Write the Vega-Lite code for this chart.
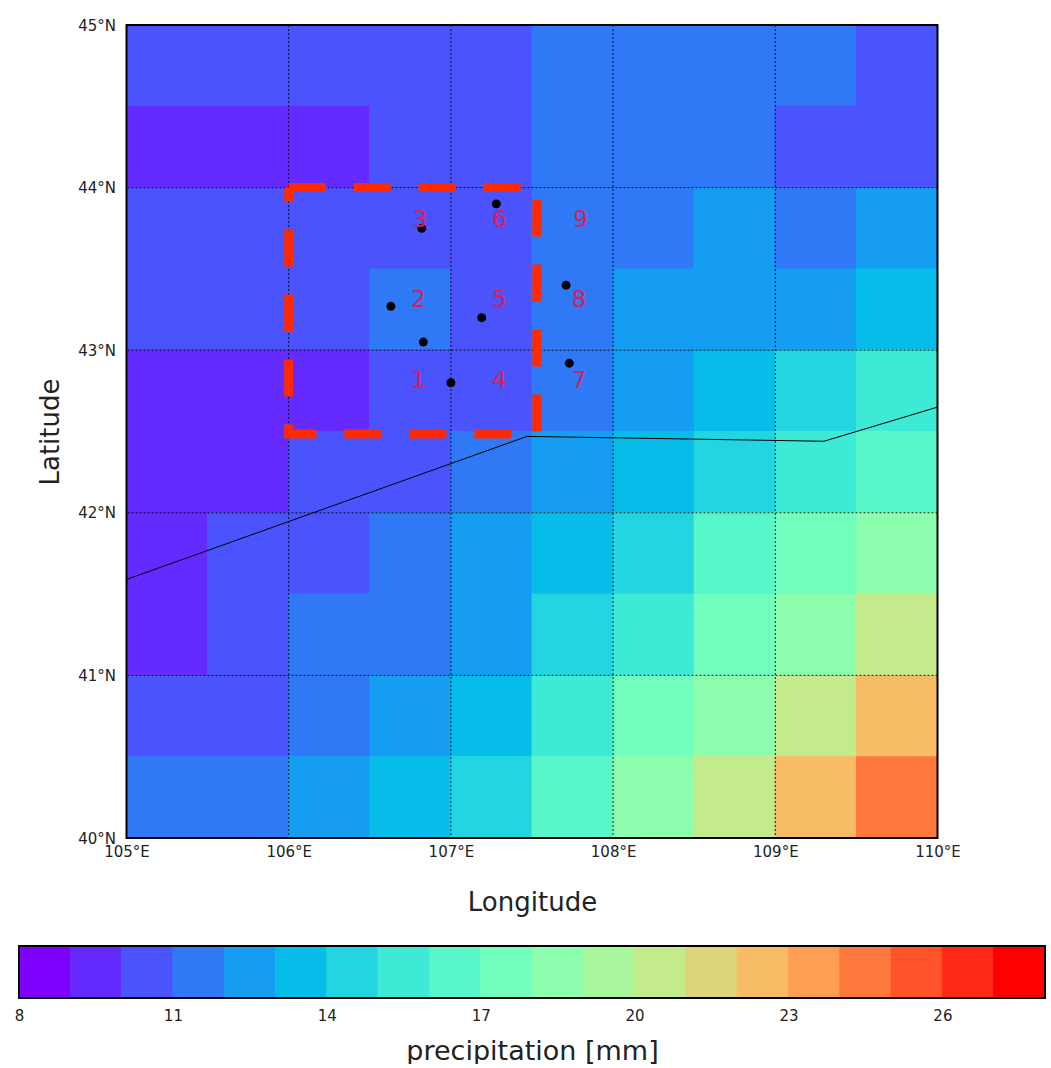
{"$schema":"https://vega.github.io/schema/vega-lite/v6.json","background":"white","padding":{"left":14,"top":18,"right":5,"bottom":0},"center":true,"spacing":108,"bounds":"flush","config":{"view":{"stroke":null},"axis":{"labelFont":"DejaVu Sans","titleFont":"DejaVu Sans","labelColor":"#222222","titleColor":"#222222","titleFontWeight":"normal"}},"datasets":{"cells":[
{"lon":105,"lon2":105.5,"lat":44.5,"lat2":45,"precip":10.5},{"lon":105.5,"lon2":106,"lat":44.5,"lat2":45,"precip":10.5},{"lon":106,"lon2":106.5,"lat":44.5,"lat2":45,"precip":10.5},{"lon":106.5,"lon2":107,"lat":44.5,"lat2":45,"precip":10.5},{"lon":107,"lon2":107.5,"lat":44.5,"lat2":45,"precip":10.5},{"lon":107.5,"lon2":108,"lat":44.5,"lat2":45,"precip":11.5},{"lon":108,"lon2":108.5,"lat":44.5,"lat2":45,"precip":11.5},{"lon":108.5,"lon2":109,"lat":44.5,"lat2":45,"precip":11.5},{"lon":109,"lon2":109.5,"lat":44.5,"lat2":45,"precip":11.5},{"lon":109.5,"lon2":110,"lat":44.5,"lat2":45,"precip":10.5},
{"lon":105,"lon2":105.5,"lat":44,"lat2":44.5,"precip":9.5},{"lon":105.5,"lon2":106,"lat":44,"lat2":44.5,"precip":9.5},{"lon":106,"lon2":106.5,"lat":44,"lat2":44.5,"precip":9.5},{"lon":106.5,"lon2":107,"lat":44,"lat2":44.5,"precip":10.5},{"lon":107,"lon2":107.5,"lat":44,"lat2":44.5,"precip":10.5},{"lon":107.5,"lon2":108,"lat":44,"lat2":44.5,"precip":11.5},{"lon":108,"lon2":108.5,"lat":44,"lat2":44.5,"precip":11.5},{"lon":108.5,"lon2":109,"lat":44,"lat2":44.5,"precip":11.5},{"lon":109,"lon2":109.5,"lat":44,"lat2":44.5,"precip":10.5},{"lon":109.5,"lon2":110,"lat":44,"lat2":44.5,"precip":10.5},
{"lon":105,"lon2":105.5,"lat":43.5,"lat2":44,"precip":10.5},{"lon":105.5,"lon2":106,"lat":43.5,"lat2":44,"precip":10.5},{"lon":106,"lon2":106.5,"lat":43.5,"lat2":44,"precip":10.5},{"lon":106.5,"lon2":107,"lat":43.5,"lat2":44,"precip":10.5},{"lon":107,"lon2":107.5,"lat":43.5,"lat2":44,"precip":10.5},{"lon":107.5,"lon2":108,"lat":43.5,"lat2":44,"precip":11.5},{"lon":108,"lon2":108.5,"lat":43.5,"lat2":44,"precip":11.5},{"lon":108.5,"lon2":109,"lat":43.5,"lat2":44,"precip":12.5},{"lon":109,"lon2":109.5,"lat":43.5,"lat2":44,"precip":11.5},{"lon":109.5,"lon2":110,"lat":43.5,"lat2":44,"precip":12.5},
{"lon":105,"lon2":105.5,"lat":43,"lat2":43.5,"precip":10.5},{"lon":105.5,"lon2":106,"lat":43,"lat2":43.5,"precip":10.5},{"lon":106,"lon2":106.5,"lat":43,"lat2":43.5,"precip":10.5},{"lon":106.5,"lon2":107,"lat":43,"lat2":43.5,"precip":11.5},{"lon":107,"lon2":107.5,"lat":43,"lat2":43.5,"precip":10.5},{"lon":107.5,"lon2":108,"lat":43,"lat2":43.5,"precip":11.5},{"lon":108,"lon2":108.5,"lat":43,"lat2":43.5,"precip":12.5},{"lon":108.5,"lon2":109,"lat":43,"lat2":43.5,"precip":12.5},{"lon":109,"lon2":109.5,"lat":43,"lat2":43.5,"precip":12.5},{"lon":109.5,"lon2":110,"lat":43,"lat2":43.5,"precip":13.5},
{"lon":105,"lon2":105.5,"lat":42.5,"lat2":43,"precip":9.5},{"lon":105.5,"lon2":106,"lat":42.5,"lat2":43,"precip":9.5},{"lon":106,"lon2":106.5,"lat":42.5,"lat2":43,"precip":9.5},{"lon":106.5,"lon2":107,"lat":42.5,"lat2":43,"precip":10.5},{"lon":107,"lon2":107.5,"lat":42.5,"lat2":43,"precip":10.5},{"lon":107.5,"lon2":108,"lat":42.5,"lat2":43,"precip":11.5},{"lon":108,"lon2":108.5,"lat":42.5,"lat2":43,"precip":12.5},{"lon":108.5,"lon2":109,"lat":42.5,"lat2":43,"precip":13.5},{"lon":109,"lon2":109.5,"lat":42.5,"lat2":43,"precip":14.5},{"lon":109.5,"lon2":110,"lat":42.5,"lat2":43,"precip":15.5},
{"lon":105,"lon2":105.5,"lat":42,"lat2":42.5,"precip":9.5},{"lon":105.5,"lon2":106,"lat":42,"lat2":42.5,"precip":9.5},{"lon":106,"lon2":106.5,"lat":42,"lat2":42.5,"precip":10.5},{"lon":106.5,"lon2":107,"lat":42,"lat2":42.5,"precip":10.5},{"lon":107,"lon2":107.5,"lat":42,"lat2":42.5,"precip":11.5},{"lon":107.5,"lon2":108,"lat":42,"lat2":42.5,"precip":12.5},{"lon":108,"lon2":108.5,"lat":42,"lat2":42.5,"precip":13.5},{"lon":108.5,"lon2":109,"lat":42,"lat2":42.5,"precip":14.5},{"lon":109,"lon2":109.5,"lat":42,"lat2":42.5,"precip":15.5},{"lon":109.5,"lon2":110,"lat":42,"lat2":42.5,"precip":16.5},
{"lon":105,"lon2":105.5,"lat":41.5,"lat2":42,"precip":9.5},{"lon":105.5,"lon2":106,"lat":41.5,"lat2":42,"precip":10.5},{"lon":106,"lon2":106.5,"lat":41.5,"lat2":42,"precip":10.5},{"lon":106.5,"lon2":107,"lat":41.5,"lat2":42,"precip":11.5},{"lon":107,"lon2":107.5,"lat":41.5,"lat2":42,"precip":12.5},{"lon":107.5,"lon2":108,"lat":41.5,"lat2":42,"precip":13.5},{"lon":108,"lon2":108.5,"lat":41.5,"lat2":42,"precip":14.5},{"lon":108.5,"lon2":109,"lat":41.5,"lat2":42,"precip":16.5},{"lon":109,"lon2":109.5,"lat":41.5,"lat2":42,"precip":17.5},{"lon":109.5,"lon2":110,"lat":41.5,"lat2":42,"precip":18.5},
{"lon":105,"lon2":105.5,"lat":41,"lat2":41.5,"precip":9.5},{"lon":105.5,"lon2":106,"lat":41,"lat2":41.5,"precip":10.5},{"lon":106,"lon2":106.5,"lat":41,"lat2":41.5,"precip":11.5},{"lon":106.5,"lon2":107,"lat":41,"lat2":41.5,"precip":11.5},{"lon":107,"lon2":107.5,"lat":41,"lat2":41.5,"precip":12.5},{"lon":107.5,"lon2":108,"lat":41,"lat2":41.5,"precip":14.5},{"lon":108,"lon2":108.5,"lat":41,"lat2":41.5,"precip":15.5},{"lon":108.5,"lon2":109,"lat":41,"lat2":41.5,"precip":17.5},{"lon":109,"lon2":109.5,"lat":41,"lat2":41.5,"precip":18.5},{"lon":109.5,"lon2":110,"lat":41,"lat2":41.5,"precip":20.5},
{"lon":105,"lon2":105.5,"lat":40.5,"lat2":41,"precip":10.5},{"lon":105.5,"lon2":106,"lat":40.5,"lat2":41,"precip":10.5},{"lon":106,"lon2":106.5,"lat":40.5,"lat2":41,"precip":11.5},{"lon":106.5,"lon2":107,"lat":40.5,"lat2":41,"precip":12.5},{"lon":107,"lon2":107.5,"lat":40.5,"lat2":41,"precip":13.5},{"lon":107.5,"lon2":108,"lat":40.5,"lat2":41,"precip":15.5},{"lon":108,"lon2":108.5,"lat":40.5,"lat2":41,"precip":17.5},{"lon":108.5,"lon2":109,"lat":40.5,"lat2":41,"precip":18.5},{"lon":109,"lon2":109.5,"lat":40.5,"lat2":41,"precip":20.5},{"lon":109.5,"lon2":110,"lat":40.5,"lat2":41,"precip":22.5},
{"lon":105,"lon2":105.5,"lat":40,"lat2":40.5,"precip":11.5},{"lon":105.5,"lon2":106,"lat":40,"lat2":40.5,"precip":11.5},{"lon":106,"lon2":106.5,"lat":40,"lat2":40.5,"precip":12.5},{"lon":106.5,"lon2":107,"lat":40,"lat2":40.5,"precip":13.5},{"lon":107,"lon2":107.5,"lat":40,"lat2":40.5,"precip":14.5},{"lon":107.5,"lon2":108,"lat":40,"lat2":40.5,"precip":16.5},{"lon":108,"lon2":108.5,"lat":40,"lat2":40.5,"precip":18.5},{"lon":108.5,"lon2":109,"lat":40,"lat2":40.5,"precip":20.5},{"lon":109,"lon2":109.5,"lat":40,"lat2":40.5,"precip":22.5},{"lon":109.5,"lon2":110,"lat":40,"lat2":40.5,"precip":24.5}
],"bins":[{"from":8,"to":9,"precip":8.5},{"from":9,"to":10,"precip":9.5},{"from":10,"to":11,"precip":10.5},{"from":11,"to":12,"precip":11.5},{"from":12,"to":13,"precip":12.5},{"from":13,"to":14,"precip":13.5},{"from":14,"to":15,"precip":14.5},{"from":15,"to":16,"precip":15.5},{"from":16,"to":17,"precip":16.5},{"from":17,"to":18,"precip":17.5},{"from":18,"to":19,"precip":18.5},{"from":19,"to":20,"precip":19.5},{"from":20,"to":21,"precip":20.5},{"from":21,"to":22,"precip":21.5},{"from":22,"to":23,"precip":22.5},{"from":23,"to":24,"precip":23.5},{"from":24,"to":25,"precip":24.5},{"from":25,"to":26,"precip":25.5},{"from":26,"to":27,"precip":26.5},{"from":27,"to":28,"precip":27.5}]},
"vconcat":[{"width":811,"height":813,"layer":[
{"data":{"name":"cells"},"mark":{"type":"rect","strokeWidth":1},"encoding":{"x":{"field":"lon","type":"quantitative","scale":{"domain":[105,110],"nice":false},"axis":{"values":[105,106,107,108,109,110],"labelExpr":"datum.value + '°E'","labelFontSize":15,"labelFlush":false,"labelPadding":6,"ticks":false,"grid":false,"domain":false,"title":"Longitude","titleFontSize":26,"titlePadding":30}},"x2":{"field":"lon2"},"y":{"field":"lat","type":"quantitative","scale":{"domain":[40,45],"nice":false},"axis":{"values":[40,41,42,43,44,45],"labelExpr":"datum.value + '°N'","labelFontSize":15,"labelFlush":false,"labelPadding":11,"ticks":false,"grid":false,"domain":false,"title":"Latitude","titleFontSize":26,"titlePadding":14}},"y2":{"field":"lat2"},"fill":{"field":"precip","type":"quantitative","legend":null,"scale":{"type":"threshold","domain":[9,10,11,12,13,14,15,16,17,18,19,20,21,22,23,24,25,26,27],"range":["#8000ff","#652afe","#4a53fc","#2f79f7","#149df1","#07bce9","#22d5e0","#3cead5","#57f7c9","#72febc","#8dfead","#a8f79d","#c3ea8b","#ddd579","#f8bc66","#ff9d53","#ff793f","#ff532a","#ff2a15","#ff0000"]}},"stroke":{"field":"precip","type":"quantitative","legend":null,"scale":{"type":"threshold","domain":[9,10,11,12,13,14,15,16,17,18,19,20,21,22,23,24,25,26,27],"range":["#8000ff","#652afe","#4a53fc","#2f79f7","#149df1","#07bce9","#22d5e0","#3cead5","#57f7c9","#72febc","#8dfead","#a8f79d","#c3ea8b","#ddd579","#f8bc66","#ff9d53","#ff793f","#ff532a","#ff2a15","#ff0000"]}}}},
{"data":{"values":[{"lon":106},{"lon":107},{"lon":108},{"lon":109}]},"mark":{"type":"rule","color":"#000000","strokeWidth":1,"strokeDash":[2,2],"opacity":0.85},"encoding":{"x":{"field":"lon","type":"quantitative"}}},
{"data":{"values":[{"lat":41},{"lat":42},{"lat":43},{"lat":44}]},"mark":{"type":"rule","color":"#000000","strokeWidth":1,"strokeDash":[2,2],"opacity":0.85},"encoding":{"y":{"field":"lat","type":"quantitative"}}},
{"data":{"values":[{"lon":105,"lat":41.59,"o":0},{"lon":107.47,"lat":42.47,"o":1},{"lon":109.3,"lat":42.44,"o":2},{"lon":110,"lat":42.65,"o":3}]},"mark":{"type":"line","color":"#000000","strokeWidth":1},"encoding":{"x":{"field":"lon","type":"quantitative"},"y":{"field":"lat","type":"quantitative"},"order":{"field":"o"}}},
{"data":{"values":[{"lon":106,"lat":44,"o":0},{"lon":107.53,"lat":44,"o":1},{"lon":107.53,"lat":42.485,"o":2},{"lon":106,"lat":42.485,"o":3},{"lon":106,"lat":44,"o":4}]},"mark":{"type":"line","color":"#ff2a00","strokeWidth":9,"strokeDash":[37,28],"strokeCap":"butt"},"encoding":{"x":{"field":"lon","type":"quantitative"},"y":{"field":"lat","type":"quantitative"},"order":{"field":"o"}}},
{"data":{"values":[{"lon":106.82,"lat":43.75},{"lon":107.28,"lat":43.9},{"lon":106.63,"lat":43.27},{"lon":106.83,"lat":43.05},{"lon":107.19,"lat":43.2},{"lon":107.71,"lat":43.4},{"lon":107.73,"lat":42.92},{"lon":107.0,"lat":42.8}]},"mark":{"type":"point","filled":true,"color":"#000000","opacity":1,"size":80},"encoding":{"x":{"field":"lon","type":"quantitative"},"y":{"field":"lat","type":"quantitative"}}},
{"data":{"values":[{"lon":106.8,"lat":42.81,"n":"1"},{"lon":106.8,"lat":43.31,"n":"2"},{"lon":106.81,"lat":43.8,"n":"3"},{"lon":107.3,"lat":42.81,"n":"4"},{"lon":107.3,"lat":43.31,"n":"5"},{"lon":107.3,"lat":43.8,"n":"6"},{"lon":107.79,"lat":42.81,"n":"7"},{"lon":107.79,"lat":43.31,"n":"8"},{"lon":107.8,"lat":43.8,"n":"9"}]},"mark":{"type":"text","color":"#d8205a","font":"DejaVu Sans","fontSize":23,"baseline":"middle","align":"center"},"encoding":{"x":{"field":"lon","type":"quantitative"},"y":{"field":"lat","type":"quantitative"},"text":{"field":"n"}}},
{"data":{"values":[{"a":105,"b":110,"c":40,"d":45}]},"mark":{"type":"rect","fill":null,"fillOpacity":0,"stroke":"#000000","strokeWidth":2},"encoding":{"x":{"field":"a","type":"quantitative"},"x2":{"field":"b"},"y":{"field":"c","type":"quantitative"},"y2":{"field":"d"}}}
]},
{"width":1026,"height":52,"layer":[
{"data":{"name":"bins"},"mark":{"type":"rect","strokeWidth":1},"encoding":{"x":{"field":"from","type":"quantitative","scale":{"domain":[8,28],"nice":false},"axis":{"values":[8,11,14,17,20,23,26],"labelFontSize":15,"labelFlush":false,"labelPadding":10,"ticks":false,"grid":false,"domain":false,"title":"precipitation [mm]","titleFontSize":27,"titlePadding":15}},"x2":{"field":"to"},"fill":{"field":"precip","type":"quantitative","legend":null,"scale":{"type":"threshold","domain":[9,10,11,12,13,14,15,16,17,18,19,20,21,22,23,24,25,26,27],"range":["#8000ff","#652afe","#4a53fc","#2f79f7","#149df1","#07bce9","#22d5e0","#3cead5","#57f7c9","#72febc","#8dfead","#a8f79d","#c3ea8b","#ddd579","#f8bc66","#ff9d53","#ff793f","#ff532a","#ff2a15","#ff0000"]}},"stroke":{"field":"precip","type":"quantitative","legend":null,"scale":{"type":"threshold","domain":[9,10,11,12,13,14,15,16,17,18,19,20,21,22,23,24,25,26,27],"range":["#8000ff","#652afe","#4a53fc","#2f79f7","#149df1","#07bce9","#22d5e0","#3cead5","#57f7c9","#72febc","#8dfead","#a8f79d","#c3ea8b","#ddd579","#f8bc66","#ff9d53","#ff793f","#ff532a","#ff2a15","#ff0000"]}}}},
{"data":{"values":[{"a":8,"b":28}]},"mark":{"type":"rect","fill":null,"fillOpacity":0,"stroke":"#000000","strokeWidth":2},"encoding":{"x":{"field":"a","type":"quantitative"},"x2":{"field":"b"}}}
]}],"resolve":{"scale":{"x":"independent"}}}
